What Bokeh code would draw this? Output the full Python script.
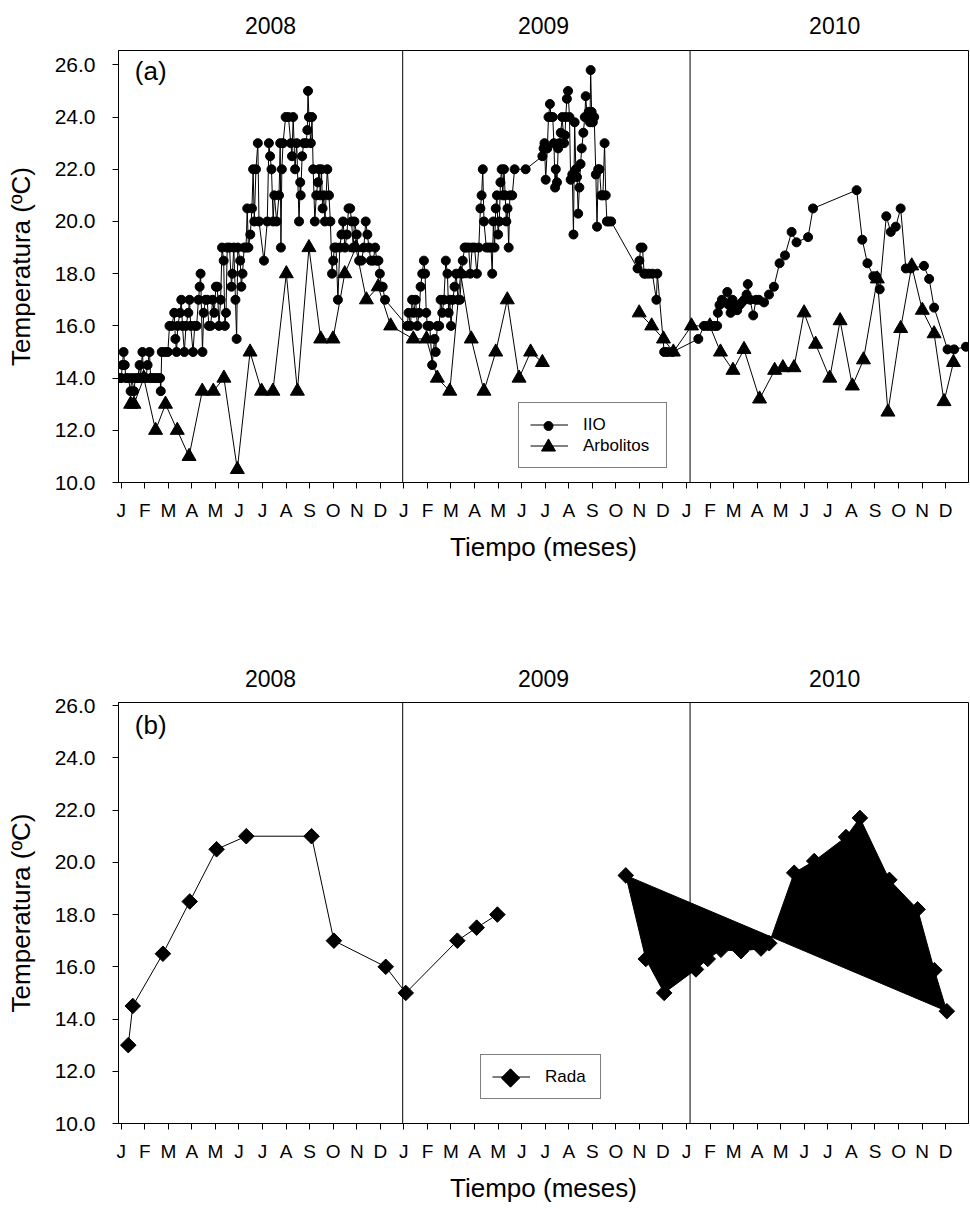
import numpy as np
from bokeh.plotting import figure
from bokeh.models import (FixedTicker, Span, Label, Legend, LegendItem, PrintfTickFormatter,
                          LinearAxis)
from bokeh.layouts import column
from bokeh.embed import file_html
from bokeh.resources import INLINE

# ---------------- data ----------------
MONTHS = ["J", "F", "M", "A", "M", "J", "J", "A", "S", "O", "N", "D"]
YEARS = ["2008", "2009", "2010"]
Y_TICKS = [10, 12, 14, 16, 18, 20, 22, 24, 26]

# month index (0 = January 2008), temperature
iio_m = [-0.05, 0.0, 0.05, 0.1, 0.15, 0.2, 0.3, 0.4, 0.45, 0.54, 0.6, 0.7, 0.78, 0.82, 0.9, 0.96,
         1.05, 1.12, 1.2, 1.25, 1.35, 1.45, 1.55, 1.65, 1.68, 1.72, 1.85, 1.98, 2.05, 2.15, 2.25,
         2.3, 2.35, 2.4, 2.5, 2.55, 2.6, 2.68, 2.75, 2.85, 2.9, 2.95, 3.05, 3.12, 3.2, 3.28, 3.33,
         3.37, 3.45, 3.5, 3.58, 3.65, 3.72, 3.8, 3.88, 3.95, 4.02, 4.08, 4.15, 4.22, 4.28, 4.35,
         4.4, 4.45, 4.5, 4.6, 4.68, 4.72, 4.78, 4.85, 4.9, 4.95, 5.05, 5.1, 5.15, 5.22, 5.3, 5.35,
         5.4, 5.48, 5.55, 5.6, 5.65, 5.72, 5.8, 5.85, 6.06, 6.2, 6.27, 6.32, 6.38, 6.45, 6.5, 6.6,
         6.7, 6.75, 6.78, 6.82, 6.87, 6.98, 7.1, 7.2, 7.25, 7.3, 7.38, 7.45, 7.55, 7.6, 7.62, 7.68,
         7.75, 7.85, 7.9, 7.93, 7.97, 8.05, 8.1, 8.15, 8.22, 8.28, 8.35, 8.4, 8.45, 8.5, 8.55, 8.6,
         8.65, 8.75, 8.82, 8.88, 8.95, 9.0, 9.05, 9.12, 9.2, 9.28, 9.35, 9.42, 9.5, 9.58, 9.65,
         9.72, 9.78, 9.85, 9.9, 10.0, 10.1, 10.2, 10.3, 10.38, 10.45, 10.52, 10.6, 10.7, 10.78,
         10.85, 10.92, 10.98, 11.05, 11.1, 11.2,
         12.14, 12.2, 12.28, 12.35, 12.42, 12.5, 12.57, 12.65, 12.71, 12.78, 12.85, 12.9, 12.95,
         13.0, 13.1, 13.2, 13.3, 13.35, 13.42, 13.5, 13.56, 13.63, 13.7, 13.78, 13.85, 13.9, 13.95,
         14.0, 14.08, 14.15, 14.22, 14.3, 14.38, 14.45, 14.5, 14.58, 14.65, 14.75, 14.82, 14.9,
         15.0, 15.1, 15.18, 15.25, 15.3, 15.35, 15.4, 15.5, 15.6, 15.7, 15.75, 15.8, 15.85, 15.9,
         15.95, 16.0, 16.05, 16.1, 16.15, 16.2, 16.25, 16.3, 16.35, 16.4, 16.45, 16.5, 16.6, 16.7,
         17.17, 17.88, 17.93, 17.97, 18.02, 18.09, 18.14, 18.2, 18.25, 18.32, 18.37, 18.42, 18.45,
         18.5, 18.55, 18.6, 18.66, 18.72, 18.8, 18.84, 18.87, 18.92, 18.97, 19.03, 19.08, 19.15,
         19.2, 19.25, 19.3, 19.35, 19.4, 19.45, 19.5, 19.55, 19.62, 19.68, 19.72, 19.78, 19.85,
         19.9, 19.93, 19.97, 20.02, 20.08, 20.15, 20.2, 20.25, 20.3, 20.38, 20.45, 20.52, 20.57,
         20.62, 20.7, 20.8, 21.92, 22.0, 22.05, 22.13, 22.2, 22.27, 22.4, 22.55, 22.72, 22.76,
         23.05, 23.19, 23.4,
         24.5, 24.74, 24.9, 25.05, 25.2, 25.3, 25.33, 25.4, 25.5, 25.6, 25.73, 25.8, 25.87, 25.95,
         26.05, 26.15, 26.25, 26.35, 26.45, 26.55, 26.6, 26.7, 26.83, 26.95, 27.07, 27.29, 27.5,
         27.71, 27.95, 28.18, 28.46, 28.67, 29.16, 29.37, 31.22, 31.46, 31.68, 31.93, 32.05, 32.2,
         32.48, 32.67, 32.88, 33.09, 33.31, 33.52, 34.08, 34.3, 34.51, 35.08, 35.36, 35.86]
iio_t = [14.0, 14.0, 14.5, 15.0, 14.5, 14.0, 14.0, 13.5, 14.0, 13.5, 14.0, 14.0, 14.5, 14.0, 15.0, 14.0,
         14.0, 14.5, 15.0, 14.0, 14.0, 14.0, 14.0, 14.0, 13.5, 15.0, 15.0, 15.0, 16.0, 16.0, 16.5,
         15.5, 15.0, 16.0, 16.5, 17.0, 16.0, 15.0, 16.0, 16.5, 17.0, 16.0, 15.0, 16.0, 16.0, 17.0, 17.5,
         18.0, 15.0, 16.5, 17.0, 17.0, 16.0, 16.0, 17.0, 16.5, 17.5, 17.5, 16.0, 17.0, 19.0, 18.5,
         16.0, 16.5, 19.0, 19.0, 17.5, 18.0, 19.0, 17.0, 15.5, 19.0, 18.5, 17.5, 18.0, 19.0, 19.0, 20.5,
         19.0, 19.5, 20.5, 22.0, 20.0, 22.0, 23.0, 20.0, 18.5, 20.0, 23.0, 22.5, 22.0, 20.0, 21.0, 20.0,
         21.0, 23.0, 19.0, 22.0, 23.0, 24.0, 24.0, 23.0, 22.5, 24.0, 22.0, 23.0, 20.0, 21.5, 21.0, 22.5,
         23.0, 23.0, 23.5, 25.0, 24.0, 23.0, 24.0, 22.0, 20.0, 21.0, 21.5, 22.0, 21.0, 22.0, 20.5, 21.0,
         20.0, 22.0, 21.0, 20.0, 18.0, 18.5, 19.0, 19.0, 17.0, 19.0, 19.5, 20.0, 19.0, 19.5, 20.5,
         20.5, 20.0, 19.0, 20.0, 19.5, 18.5, 18.5, 19.0, 20.0, 19.5, 19.0, 18.5, 18.5, 19.0,
         18.5, 18.5, 18.0, 17.5, 17.5, 17.0,
         16.0, 16.5, 16.0, 17.0, 16.5, 17.0, 16.0, 16.5, 17.5, 18.0, 18.5, 18.0, 16.5,
         16.0, 16.0, 14.5, 15.5, 15.0, 16.0, 16.0, 17.0, 16.5, 17.0, 18.5, 18.0, 16.5, 17.0,
         16.0, 17.0, 17.5, 18.0, 17.0, 17.0, 18.0, 18.5, 19.0, 19.0, 19.0, 18.0, 19.0,
         19.0, 18.0, 19.0, 20.5, 21.0, 22.0, 20.0, 19.0, 19.0, 19.0, 18.0, 20.0, 19.0, 20.5,
         21.0, 19.5, 20.0, 21.5, 22.0, 21.0, 22.0, 21.0, 20.0, 20.5, 19.0, 21.0, 21.0, 22.0,
         22.0, 22.5, 22.8, 23.0, 21.6, 22.8, 24.0, 24.5, 24.0, 24.0, 23.0, 21.3, 22.0,
         21.5, 22.8, 23.0, 23.4, 24.0, 23.0, 23.3, 24.0, 24.7, 25.0, 24.0, 21.6, 21.8,
         19.5, 23.8, 22.0, 21.7, 20.3, 21.3, 22.2, 22.8, 23.4, 24.0, 24.8, 24.0, 24.2,
         23.8, 25.8, 24.2, 23.8, 24.0, 21.8, 19.8, 22.0, 22.0, 21.0, 21.0, 23.0, 21.0,
         20.0, 20.0, 20.0, 18.2, 18.5, 19.0, 19.0, 18.0, 18.0, 18.0, 18.0, 17.0, 18.0,
         15.0, 15.0, 15.0,
         15.5, 16.0, 16.0, 16.0, 16.0, 16.0, 16.5, 16.8, 17.0, 16.9, 17.3, 16.8, 16.5, 17.0,
         16.8, 16.6, 16.8, 16.9, 17.0, 17.2, 17.6, 17.0, 16.4, 17.0, 17.0, 16.9, 17.2,
         17.5, 18.4, 18.7, 19.6, 19.2, 19.4, 20.5, 21.2, 19.3, 18.4, 17.9, 17.9, 17.4,
         20.2, 19.6, 19.8, 20.5, 18.2, 18.2, 18.3, 17.8, 16.7, 15.1, 15.1, 15.2]

arb_m_1 = [0.40, 0.54, 0.96, 1.46, 1.88, 2.38, 2.88, 3.44, 3.91, 4.36, 4.93, 5.47, 5.96, 6.44,
           7.01, 7.48, 7.97, 8.47, 8.99, 9.49, 9.96, 10.41, 10.91, 11.44, 12.40, 12.96, 13.42,
           13.95, 14.41, 14.86, 15.40, 15.90, 16.39, 16.89, 17.38, 17.88]
arb_t_1 = [13.0, 13.0, 14.0, 12.0, 13.0, 12.0, 11.0, 13.5, 13.5, 14.0, 10.5, 15.0, 13.5, 13.5,
           18.0, 13.5, 19.0, 15.5, 15.5, 18.0, 19.0, 17.0, 17.5, 16.0, 15.5, 15.5, 14.0,
           13.5, 18.0, 15.5, 13.5, 15.0, 17.0, 14.0, 15.0, 14.6]
arb_m_2 = [21.99, 22.52, 23.02, 23.44, 24.21, 24.99, 25.44, 25.97, 26.44, 27.10, 27.74, 28.09,
           28.56, 28.99, 29.48, 30.08, 30.52, 31.04, 31.51, 32.10, 32.55, 33.09, 33.56, 34.01,
           34.51, 34.93, 35.33]
arb_t_2 = [16.5, 16.0, 15.5, 15.0, 16.0, 16.0, 15.0, 14.3, 15.1, 13.2, 14.3, 14.4,
           14.4, 16.5, 15.3, 14.0, 16.2, 13.7, 14.7, 17.8, 12.7, 15.9, 18.3, 16.6,
           15.7, 13.1, 14.6]

rada_m_1 = [0.30, 0.49, 1.77, 2.91, 4.05, 5.31, 8.08, 9.03, 11.23, 12.08, 14.27, 15.09, 15.97]
rada_t_1 = [13.0, 14.5, 16.5, 18.5, 20.5, 21.0, 21.0, 17.0, 16.0, 15.0, 17.0, 17.5, 18.0]
rada_m_2 = [21.42, 22.27, 23.05, 24.40, 24.90, 25.46, 26.31, 27.16, 27.51, 28.57, 29.42, 30.77,
            31.36, 32.61, 33.81, 34.52, 35.05]
rada_t_2 = [19.5, 16.3, 15.0, 15.9, 16.3, 16.65, 16.6, 16.7, 16.9, 19.6, 20.05, 20.97,
            21.7, 19.33, 18.2, 15.87, 14.3]

# ---------------- styling ----------------
FONT = "Liberation Sans"
FRAME_W = 850
X_RANGE = (-0.115, 35.97)
YEAR_X = [6.34, 17.93, 30.29]
SEP_X = [11.95, 24.15]
LEG_PAD, LEG_GW, LEG_ROW = 11, 38, 21


def base_fig(frame_h, top, bottom, y_max, year_standoff):
    p = figure(frame_width=FRAME_W, frame_height=frame_h, x_range=X_RANGE, y_range=(10, y_max),
               min_border_left=118, min_border_right=2, min_border_top=top,
               min_border_bottom=bottom, output_backend="svg", toolbar_location=None)
    p.grid.visible = False
    p.outline_line_color = "black"
    p.outline_line_width = 1
    xa, ya = p.xaxis[0], p.yaxis[0]
    xa.ticker = FixedTicker(ticks=list(range(36)))
    xa.major_label_overrides = {i: MONTHS[i % 12] for i in range(36)}
    ya.ticker = FixedTicker(ticks=Y_TICKS)
    ya.formatter = PrintfTickFormatter(format="%.1f")
    for ax in (xa, ya):
        ax.major_tick_out = 6
        ax.major_tick_in = 0
        ax.minor_tick_out = 0
        ax.minor_tick_in = 0
        ax.axis_line_color = "black"
        ax.major_tick_line_color = "black"
        ax.major_label_text_font = FONT
        ax.major_label_text_color = "black"
        ax.axis_label_text_font = FONT
        ax.axis_label_text_font_style = "normal"
        ax.axis_label_text_font_size = "26px"
        ax.axis_label_text_color = "black"
    xa.major_label_text_font_size = "19px"
    xa.major_label_standoff = 11
    xa.axis_label = "Tiempo (meses)"
    xa.axis_label_standoff = 8
    ya.major_label_text_font_size = "21px"
    ya.major_label_standoff = 17
    ya.axis_label = "Temperatura (ºC)"
    ya.axis_label_standoff = 16

    # year captions above the frame
    top_axis = LinearAxis(ticker=FixedTicker(ticks=YEAR_X),
                          major_label_overrides={v: t for v, t in zip(YEAR_X, YEARS)},
                          axis_line_color=None, major_tick_line_color=None,
                          minor_tick_line_color=None, major_tick_out=0, major_tick_in=0,
                          major_label_standoff=year_standoff, major_label_text_font=FONT,
                          major_label_text_font_size="23px", major_label_text_color="black")
    p.add_layout(top_axis, "above")

    for sx in SEP_X:
        p.add_layout(Span(location=sx, dimension="height", line_color="black", line_width=1))
    return p


def to_data(p, frame_h, sx, sy):
    """screen offset from the frame's bottom-left corner -> data coordinates"""
    x0, x1 = X_RANGE
    y0, y1 = p.y_range.start, p.y_range.end
    return x0 + sx * (x1 - x0) / FRAME_W, y0 + sy * (y1 - y0) / frame_h


def make_legend(p, frame_h, loc, entries, label_width):
    """entries: list of (label, line_renderer, marker, size)"""
    n = len(entries)
    height = 2 * LEG_PAD + n * LEG_ROW
    items = [LegendItem(label=lab, renderers=[lr]) for lab, lr, _, _ in entries]
    leg = Legend(items=items, location=loc, orientation="vertical",
                 border_line_color="black", border_line_width=1, background_fill_alpha=0,
                 label_text_font=FONT, label_text_font_size="17px", label_text_color="black",
                 glyph_width=LEG_GW, glyph_height=LEG_ROW, label_height=LEG_ROW,
                 label_width=label_width, spacing=0, padding=LEG_PAD, label_standoff=15,
                 margin=0)
    p.add_layout(leg)
    gx = loc[0] + LEG_PAD + LEG_GW / 2
    for i, (_, _, marker, size) in enumerate(entries):
        gy = loc[1] + height - LEG_PAD - LEG_ROW * (i + 0.5)
        mx, my = to_data(p, frame_h, gx, gy)
        kw = dict(angle=np.pi / 4) if marker == "square" else {}
        p.scatter([mx], [my], marker=marker, size=size, fill_color="black",
                  line_color="black", **kw)


# ---------------- panel (a) ----------------
FH_A = 432
pa = base_fig(FH_A, 50, 118, 26.55, 17)
pa.add_layout(Label(x=1.25, y=25.77, text="(a)", text_align="center", text_baseline="middle",
                    text_font=FONT, text_font_size="26px", text_color="black"))

arb_m = arb_m_1 + [np.nan] + arb_m_2
arb_t = arb_t_1 + [np.nan] + arb_t_2

l_iio = pa.line(iio_m, iio_t, line_color="black", line_width=1)
pa.scatter(iio_m, iio_t, marker="circle", size=9, fill_color="black", line_color="black")
l_arb = pa.line(arb_m, arb_t, line_color="black", line_width=1)
pa.scatter(arb_m_1 + arb_m_2, arb_t_1 + arb_t_2, marker="triangle", size=14,
           fill_color="black", line_color="black")
make_legend(pa, FH_A, (400, 14), [("IIO", l_iio, "circle", 9),
                                  ("Arbolitos", l_arb, "triangle", 14)], 72)

# ---------------- panel (b) ----------------
FH_B = 421
pb = base_fig(FH_B, 102, 86, 26.12, 16)
pb.add_layout(Label(x=1.25, y=25.25, text="(b)", text_align="center", text_baseline="middle",
                    text_font=FONT, text_font_size="26px", text_color="black"))

l_rada = pb.line(rada_m_1, rada_t_1, line_color="black", line_width=1)
pb.patch(rada_m_2, rada_t_2, fill_color="black", line_color="black", line_width=1)
pb.scatter(rada_m_1 + rada_m_2, rada_t_1 + rada_t_2, marker="square", angle=np.pi / 4,
           size=11, fill_color="black", line_color="black")
make_legend(pb, FH_B, (362, 24), [("Rada", l_rada, "square", 13)], 44)

layout = column(pa, pb, spacing=0)
open("out.html", "w").write(file_html(layout, INLINE))
